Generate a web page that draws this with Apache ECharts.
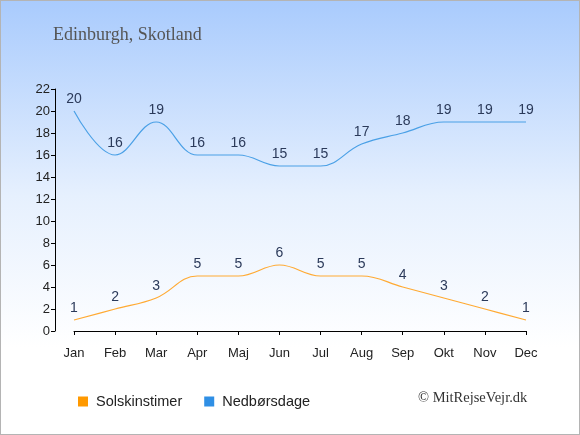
<!DOCTYPE html>
<html>
<head>
<meta charset="utf-8">
<script src="https://cdn.jsdelivr.net/npm/echarts@6/dist/echarts.min.js"></script>
<style>
  html, body { margin: 0; padding: 0; }
  #chart {
    width: 578px; height: 433px;
    border: 1px solid #b4b4b4;
    background: linear-gradient(to bottom, #a9cbfd 0%, #e6f0fe 45%, #ffffff 80%);
  }
</style>
</head>
<body>
<div id="chart"></div>
<script>
  const months = ["Jan", "Feb", "Mar", "Apr", "Maj", "Jun", "Jul", "Aug", "Sep", "Okt", "Nov", "Dec"];
  const solskinstimer = [1, 2, 3, 5, 5, 6, 5, 5, 4, 3, 2, 1];
  const nedborsdage = [20, 16, 19, 16, 16, 15, 15, 17, 18, 19, 19, 19];

  const myChart = echarts.init(document.getElementById("chart"));

  const labelStyle = {
    show: true,
    position: "top",
    distance: 5,
    color: "#2b3a5a",
    fontSize: 14,
    fontFamily: "Liberation Sans",
  };

  const option = {
    animation: false,
    title: {
      text: "Edinburgh, Skotland",
      left: 47,
      top: 20,
      textStyle: {
        fontFamily: "Liberation Serif",
        fontWeight: "normal",
        fontSize: 18,
        color: "#555555",
      },
    },
    graphic: [
      {
        type: "text",
        left: 417,
        top: 390,
        style: {
          text: "© MitRejseVejr.dk",
          font: "14.5px 'Liberation Serif'",
          fill: "#333333",
        },
      },
    ],
    legend: {
      left: 72,
      top: 388,
      icon: "rect",
      itemWidth: 10,
      itemHeight: 10,
      itemGap: 22,
      textStyle: {
        fontFamily: "Liberation Sans",
        fontSize: 14.5,
        color: "#222222",
        padding: [0, 0, 0, 3],
      },
      data: ["Solskinstimer", "Nedbørsdage"],
    },
    grid: { left: 73, right: 53, top: 88, bottom: 103 },
    xAxis: {
      type: "category",
      data: months,
      boundaryGap: false,
      offset: 10,
      axisLine: { lineStyle: { color: "#000000", width: 1 } },
      axisTick: { alignWithLabel: true, length: 4, lineStyle: { color: "#000" } },
      axisLabel: { color: "#222222", fontFamily: "Liberation Sans", fontSize: 13, margin: 6 },
    },
    yAxis: {
      type: "value",
      min: 0,
      max: 22,
      interval: 2,
      offset: 19,
      axisLine: { show: true, lineStyle: { color: "#000000", width: 1 } },
      axisTick: { show: true, length: 4, lineStyle: { color: "#000" } },
      splitLine: { show: false },
      axisLabel: { color: "#222222", fontFamily: "Liberation Sans", fontSize: 13, margin: 5 },
    },
    series: [
      {
        name: "Solskinstimer",
        type: "line",
        smooth: 0.4,
        data: solskinstimer,
        symbol: "circle",
        symbolSize: 0.1,
        itemStyle: { color: "#ff9900" },
        lineStyle: { color: "#ffaa33", width: 1.2 },
        label: labelStyle,
      },
      {
        name: "Nedbørsdage",
        type: "line",
        smooth: 0.4,
        data: nedborsdage,
        symbol: "circle",
        symbolSize: 0.1,
        itemStyle: { color: "#2f8fe5" },
        lineStyle: { color: "#4aa0e6", width: 1.2 },
        label: labelStyle,
      },
    ],
  };
  myChart.setOption(option);
</script>
</body>
</html>
